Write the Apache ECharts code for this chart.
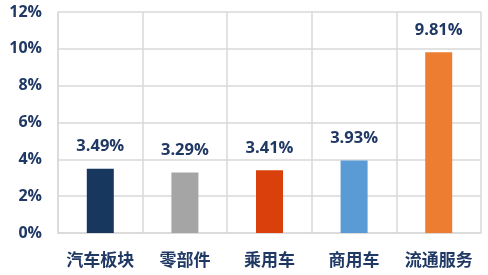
<!DOCTYPE html>
<html><head><meta charset="utf-8">
<script src="https://cdn.jsdelivr.net/npm/echarts@6/dist/echarts.min.js"></script>
<style>html,body{margin:0;padding:0;background:#fff}#c{width:488px;height:275px}</style>
</head><body><div id="c"></div>
<script>
const categories = ['汽车板块','零部件','乘用车','商用车','流通服务'];
const values = [3.49, 3.29, 3.41, 3.93, 9.81];
const barColors = ['#17375E','#A5A5A5','#D9400C','#5B9BD5','#ED7D31'];
const yTicks = [0, 2, 4, 6, 8, 10, 12];

const FONT = '"Open Sans","Noto Sans CJK SC",sans-serif';
const TXT = '#1F3864';
const chart = echarts.init(document.getElementById('c'));
chart.setOption({
  animation: false,
  grid: {left: 58, right: 7, top: 12, bottom: 42},
  xAxis: {
    type: 'category', data: categories,
    axisLine: {show: true, lineStyle: {color: '#D9D9D9', width: 1.5}},
    axisTick: {show: false},
    splitLine: {show: true, interval: 0, lineStyle: {color: '#D9D9D9', width: 1.5}},
    axisLabel: {interval: 0, color: TXT, fontSize: 17, fontWeight: 'bold', fontFamily: FONT, margin: 20}
  },
  yAxis: {
    type: 'value', min: yTicks[0], max: yTicks[yTicks.length-1], interval: 2,
    axisLine: {show: true, lineStyle: {color: '#D9D9D9', width: 1.5}},
    axisTick: {show: false},
    splitLine: {show: true, lineStyle: {color: '#D9D9D9', width: 1.5}},
    axisLabel: {color: TXT, fontSize: 16, fontWeight: 'bold', fontFamily: FONT, margin: 16,
      formatter: v => v + '%'}
  },
  series: [{
    type: 'bar', barWidth: 27,
    data: values.map((v, i) => ({value: v, itemStyle: {color: barColors[i]}})),
    label: {show: true, position: 'top', distance: 14, color: TXT, fontSize: 16.5,
      fontWeight: 'bold', fontFamily: FONT, formatter: p => p.value.toFixed(2) + '%'}
  }]
});
</script></body></html>
